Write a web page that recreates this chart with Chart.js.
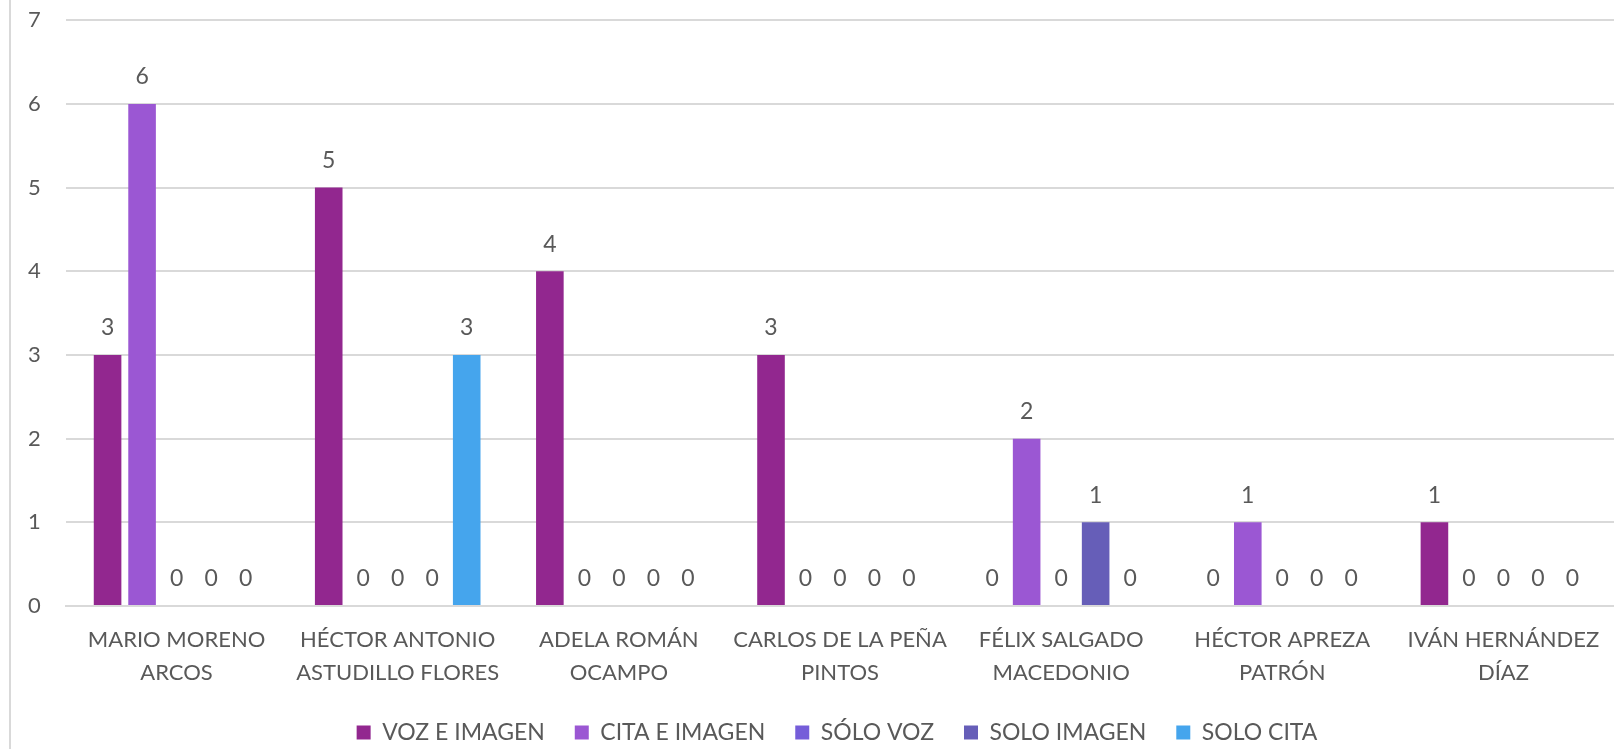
<!DOCTYPE html>
<html>
<head>
<meta charset="utf-8">
<script src="https://cdn.jsdelivr.net/npm/chart.js@4/dist/chart.umd.min.js"></script>
<style>
  html, body { margin: 0; padding: 0; background: #fff; }
  #wrap { position: relative; width: 1614px; height: 749px; }
  #frame { position: absolute; left: 9px; top: 0; width: 2px; height: 749px; background: #d9d9d9; }
</style>
</head>
<body>
<div id="wrap">
  <div id="frame"></div>
  <canvas id="chart" width="1614" height="749"></canvas>
</div>
<script>
// categories (names), two lines each
const names = [
  ['MARIO MORENO', 'ARCOS'],
  ['HÉCTOR ANTONIO', 'ASTUDILLO FLORES'],
  ['ADELA ROMÁN', 'OCAMPO'],
  ['CARLOS DE LA PEÑA', 'PINTOS'],
  ['FÉLIX SALGADO', 'MACEDONIO'],
  ['HÉCTOR APREZA', 'PATRÓN'],
  ['IVÁN HERNÁNDEZ', 'DÍAZ']
];

// series values
const vozEImagen  = [3, 5, 4, 3, 0, 0, 1];
const citaEImagen = [6, 0, 0, 0, 2, 1, 0];
const soloVoz     = [0, 0, 0, 0, 0, 0, 0];
const soloImagen  = [0, 0, 0, 0, 1, 0, 0];
const soloCita    = [0, 3, 0, 0, 0, 0, 0];

const seriesNames = ['VOZ E IMAGEN', 'CITA E IMAGEN', 'SÓLO VOZ', 'SOLO IMAGEN', 'SOLO CITA'];
const seriesColors = ['#92278F', '#9B57D3', '#755DD9', '#665EB8', '#45A5ED'];
const yTicks = [0, 1, 2, 3, 4, 5, 6, 7];

const textColor = '#595959';
const fontFamily = 'Lato, "Open Sans", sans-serif';

// draws the value above every bar (zeros too)
const valueLabels = {
  id: 'valueLabels',
  afterDatasetsDraw(chart) {
    const ctx = chart.ctx;
    ctx.save();
    ctx.fillStyle = textColor;
    ctx.font = '23px ' + fontFamily;
    ctx.textAlign = 'center';
    ctx.textBaseline = 'middle';
    chart.data.datasets.forEach((ds, i) => {
      const meta = chart.getDatasetMeta(i);
      meta.data.forEach((bar, j) => {
        ctx.fillText(String(ds.data[j]), bar.x, bar.y - 27);
      });
    });
    ctx.restore();
  }
};

// keep the legend box a fixed height and nudge it right a bit, like the original
const legendTweak = {
  id: 'legendTweak',
  afterInit(chart) {
    const fit = chart.legend.fit;
    chart.legend.fit = function () {
      fit.call(this);
      this.height = 58;
    };
  },
  afterLayout(chart) {
    chart.legend.left += 16;
    chart.legend.right += 16;
  }
};

const allSeries = [vozEImagen, citaEImagen, soloVoz, soloImagen, soloCita];

new Chart(document.getElementById('chart').getContext('2d'), {
  type: 'bar',
  data: {
    labels: names,
    datasets: allSeries.map((vals, i) => ({
      label: seriesNames[i],
      data: vals,
      backgroundColor: seriesColors[i],
      borderWidth: 0,
      barPercentage: 0.8,
      categoryPercentage: 0.78
    }))
  },
  options: {
    responsive: false,
    animation: false,
    layout: { padding: { top: 0, right: 0, bottom: 0, left: 28 } },
    plugins: {
      tooltip: { enabled: false },
      legend: {
        position: 'bottom',
        labels: {
          color: textColor,
          font: { family: fontFamily, size: 23 },
          boxWidth: 14,
          boxHeight: 14,
          padding: 30
        }
      }
    },
    scales: {
      x: {
        grid: { display: false },
        border: { display: true, color: '#d9d9d9', width: 2 },
        ticks: {
          color: textColor,
          font: { family: fontFamily, size: 22, lineHeight: 1.48 },
          maxRotation: 0,
          autoSkip: false,
          padding: 10
        },
        afterFit(scale) {
          scale.height = 85;
        }
      },
      y: {
        min: 0,
        max: 7,
        afterBuildTicks(axis) {
          axis.ticks = yTicks.map(v => ({ value: v }));
        },
        grid: { color: '#d9d9d9', lineWidth: 2, drawTicks: false },
        border: { display: false },
        ticks: {
          color: textColor,
          font: { family: fontFamily, size: 22 },
          crossAlign: 'far',
          padding: 7
        },
        afterFit(scale) {
          scale.width = 38;
        }
      }
    }
  },
  plugins: [valueLabels, legendTweak]
});
</script>
</body>
</html>
